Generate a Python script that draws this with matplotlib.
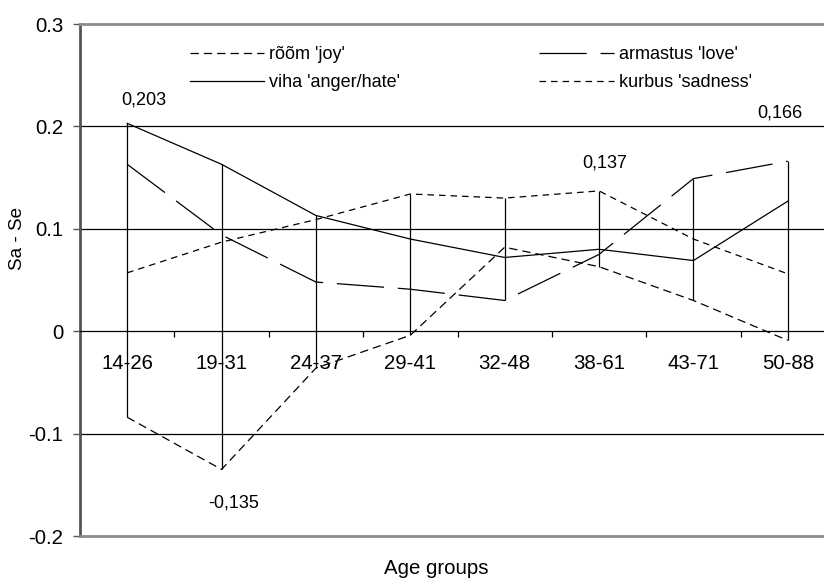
import numpy as np
import matplotlib
matplotlib.use("Agg")
import matplotlib.pyplot as plt

plt.rcParams['font.family'] = ['Liberation Sans', 'DejaVu Sans']
plt.rcParams['lines.scale_dashes'] = False

# data
age_groups = ['14-26', '19-31', '24-37', '29-41', '32-48', '38-61', '43-71', '50-88']
room_joy = [-0.084, -0.135, -0.036, -0.004, 0.082, 0.063, 0.030, -0.009]
viha_anger = [0.203, 0.163, 0.113, 0.090, 0.072, 0.080, 0.069, 0.127]
armastus_love = [0.163, 0.094, 0.048, 0.041, 0.030, 0.075, 0.149, 0.166]
kurbus_sadness = [0.057, 0.087, 0.109, 0.134, 0.130, 0.137, 0.090, 0.056]

y_ticks = [0.3, 0.2, 0.1, 0, -0.1, -0.2]
y_ticklabels = ['0.3', '0.2', '0.1', '0', '-0.1', '-0.2']

fig = plt.figure(figsize=(8.24, 5.8), dpi=100)
W, H = 824, 580
# plot area in pixels: left 80, top 24, bottom 536, right runs past the figure edge
ax = fig.add_axes([80 / W, (H - 536) / H, (835 - 80) / W, (536 - 24) / H])

x = np.arange(len(age_groups))
series = [room_joy, viha_anger, armastus_love, kurbus_sadness]

# high-low lines
allv = np.array(series)
ax.vlines(x, allv.min(axis=0), allv.max(axis=0), color='black', lw=0.9, zorder=2)

# gridlines
for g in [0.2, 0.1, -0.1]:
    ax.axhline(g, color='black', lw=0.9, zorder=1)
ax.axhline(-0.2, color='#8c8c8c', lw=2, zorder=3, clip_on=False)

lw = 0.9
ax.plot(x, room_joy, color='black', lw=lw, dashes=(6, 3.6), label="rõõm 'joy'", zorder=4)
ax.plot(x, viha_anger, color='black', lw=lw, label="viha 'anger/hate'", zorder=4)
ax.plot(x, armastus_love, color='black', lw=lw, dashes=(34, 10), label="armastus 'love'", zorder=4)
ax.plot(x, kurbus_sadness, color='black', lw=lw, dashes=(4.7, 3.6), label="kurbus 'sadness'", zorder=4)

ax.set_xlim(-0.5, len(age_groups) - 0.5)
ax.set_ylim(-0.2, 0.3)

# axes styling
ax.spines['right'].set_visible(False)
ax.spines['top'].set_color('#8c8c8c')
ax.spines['top'].set_linewidth(2)
ax.spines['left'].set_color('#555555')
ax.spines['left'].set_linewidth(2)
ax.spines['bottom'].set_position(('data', 0))
ax.spines['bottom'].set_color('black')
ax.spines['bottom'].set_linewidth(0.9)

ax.set_yticks(y_ticks)
ax.set_yticklabels(y_ticklabels)
ax.tick_params(axis='y', direction='out', length=5, width=1, color='#555555', pad=7, labelsize=14.7)

ax.set_xticks(x)
ax.set_xticklabels(age_groups)
ax.set_xticks(x[:-1] + 0.5, minor=True)
ax.tick_params(axis='x', which='major', length=0, pad=16.5, labelsize=14.7)
ax.tick_params(axis='x', which='minor', direction='out', length=4.3, width=0.9, color='black')

# data labels
labels = [(0, viha_anger[0], (12, 17)),
          (1, room_joy[1], (9, -24)),
          (5, kurbus_sadness[5], (4, 20)),
          (7, armastus_love[7], (-6, 35))]
for i, v, off in labels:
    ax.annotate(f"{v:.3f}".replace('.', ','), (i, v), xytext=off, textcoords='offset points',
                ha='center', va='center', fontsize=13)

leg = ax.legend(ncol=2, frameon=False, loc='upper left',
                bbox_to_anchor=(190 / W, 1 - 46 / H), bbox_transform=fig.transFigure,
                fontsize=13, handlelength=4.1, handletextpad=0.3, columnspacing=7.7,
                labelspacing=0.6, borderpad=0, borderaxespad=0)

fig.text(17 / W, 1 - 238 / H, 'Sa - Se', rotation=90, ha='center', va='center', fontsize=13.5)
fig.text(436 / W, 1 - 568 / H, 'Age groups', ha='center', va='center', fontsize=14.7)

fig.savefig('out.png', dpi=100)
